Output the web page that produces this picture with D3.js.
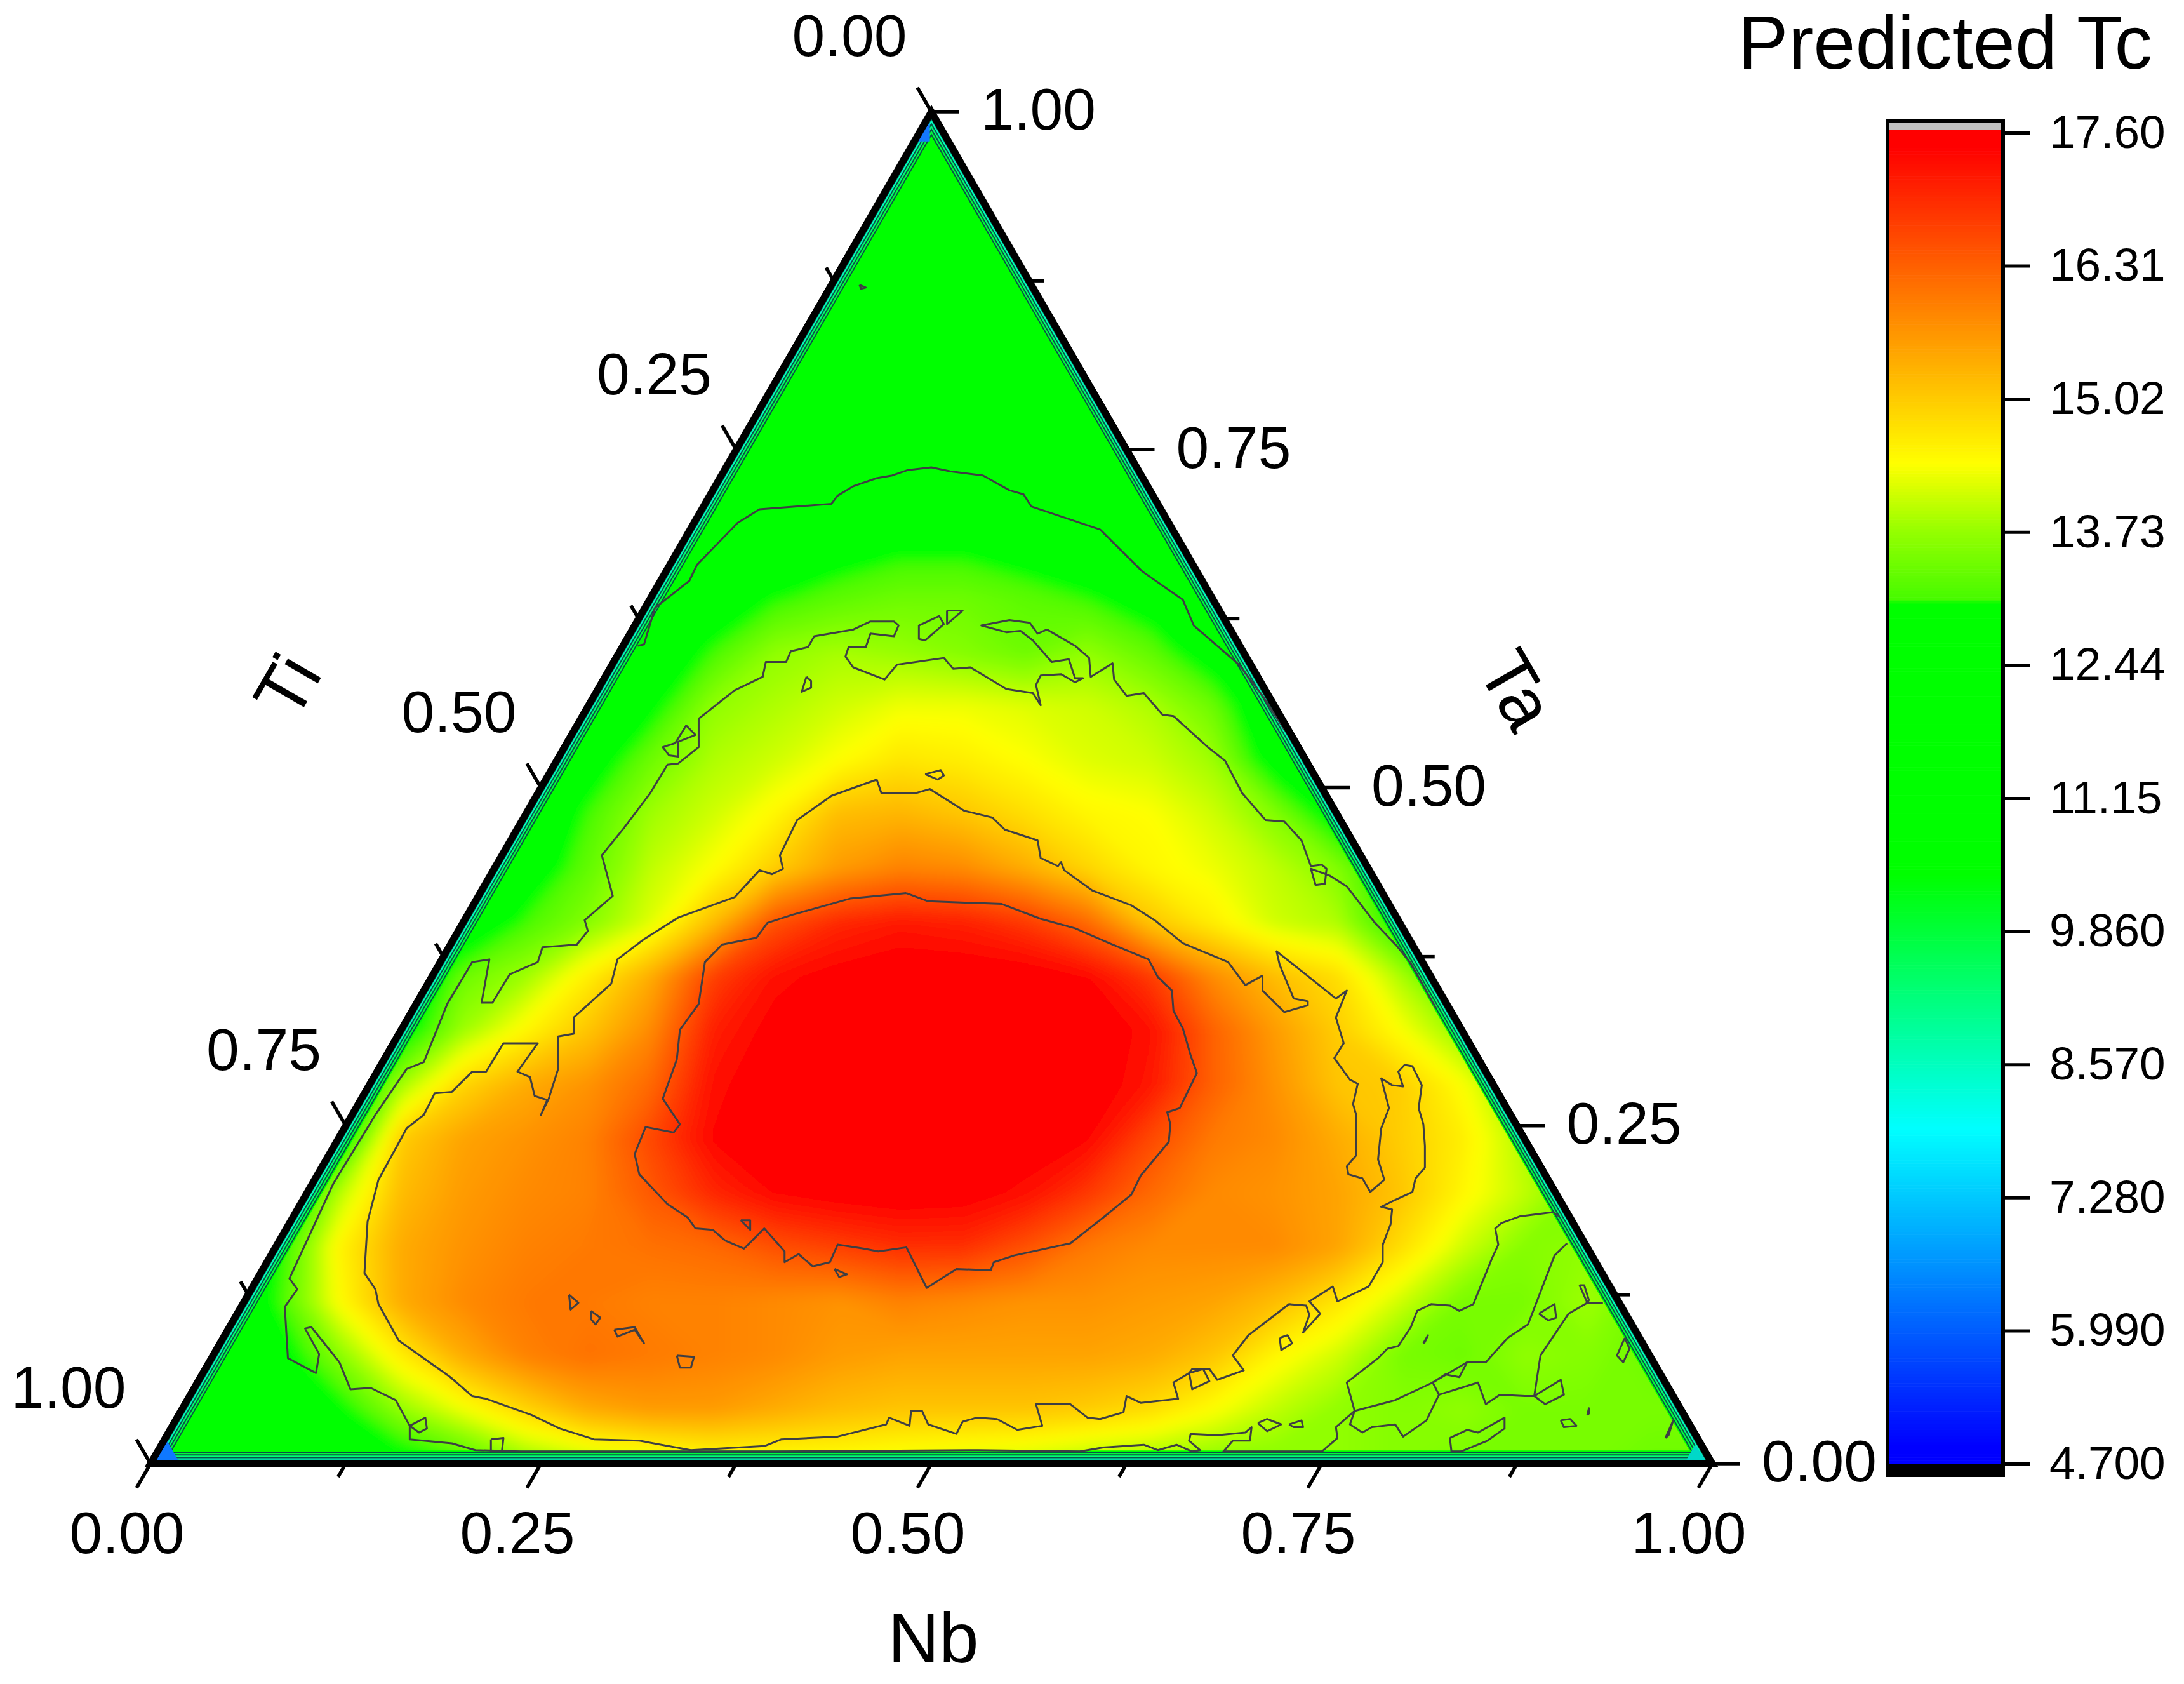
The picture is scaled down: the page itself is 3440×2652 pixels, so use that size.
<!DOCTYPE html>
<html><head><meta charset="utf-8">
<style>html,body{margin:0;padding:0;background:#fff}svg{display:block}text{font-family:"Liberation Sans",Arial,sans-serif;fill:#000}</style>
<script src="https://cdn.jsdelivr.net/npm/d3@7"></script>
</head><body><div id="c"></div>
<script>
// ---- tick values and labels
const axisTicks=[0,.25,.5,.75,1];
const axisMinor=[.125,.375,.625,.875];
const barTicks=[17.6,16.31,15.02,13.73,12.44,11.15,9.86,8.57,7.28,5.99,4.7];
const barLabels=["17.60","16.31","15.02","13.73","12.44","11.15","9.860","8.570","7.280","5.990","4.700"];
// ---- colour ramp of the legend
const rampValues=[4.85,7.93,10.4,13.03,13.06,13.73,14.38,17.45,17.6];
const rampColors=["#0000ff","#00ffff","#00ff00","#00ff00","#46fa00","#96ff00","#ffff00","#ff0000","#ff0000"];
// ---- Predicted Tc read on a grid: row = Ta 0,.04,...; column = (Nb+Ta/2) 0,.04,...,1
const G=12;
const tcGrid=[
[12.4,12.4,12.4,12.4,12.6,13,13.6,13.9,14.1,14.3,14.3,14.3,14.2,14.1,14,13.8,13.7,13.6,13.6,13.7,13.6,13.5,13.5,13.5,13.4,13.4],
[12.4,12.3,12.4,12.8,13.7,14.3,14.9,15.4,15.6,15.6,15.4,15.2,15.1,15.1,15.1,15,14.8,14.4,14,13.7,13.6,13.7,13.5,13.5,13.5,13.5],
[12.4,12.4,12.6,13.6,14.6,15.4,15.9,16.1,16,15.9,15.8,15.6,15.5,15.5,15.5,15.5,15.4,15.1,14.5,14.1,13.5,13.4,13.7,13.6,13.4,13.4],
[12.4,12.4,13,14.4,15.4,15.8,16,16,15.9,15.9,15.8,15.7,15.9,15.8,15.7,15.7,15.6,15.5,15.2,14.7,14.1,13.5,13.5,13.8,13.4,13.4],
[12.2,12.2,12.8,14.5,15.4,15.7,15.9,16,16.1,16.2,16.5,16.7,16.9,16.9,16.5,16,15.8,15.8,15.8,15.5,14.8,14.1,13.6,13.7,13,13],
[12,12,12,13.9,15.2,15.6,15.8,15.9,16.4,17,17.4,17.55,17.6,17.55,17.3,16.8,16.2,15.8,15.7,15.5,15.1,14.5,14,13.5,12.6,12.4],
[12,12,12,12.5,15,15.5,15.7,15.9,16.6,17.4,17.6,17.6,17.6,17.6,17.6,17.4,16.6,16,15.8,15.4,15,14.6,13.9,13,12.4,12.4],
[12,12,12,12,13.8,14.9,15.4,15.7,16.2,17.3,17.6,17.6,17.6,17.6,17.6,17.6,17.2,16.3,15.7,15.1,15,14.4,13.5,12.6,12.4,12.4],
[12,12,12,12,12.6,13.8,14.5,15.1,15.8,17.1,17.5,17.6,17.6,17.6,17.6,17.6,17.3,16.3,15.6,15,14.4,13.7,12.5,12,12,12],
[12,12,12,12,12,13.4,13.8,14.6,15.4,16.7,17.3,17.5,17.6,17.6,17.6,17.4,16.8,15.8,15.2,14.8,13.9,12.8,12,12,12,12],
[12,12,12,12,12,12.2,13.1,13.6,14.2,15.2,16.5,17,17.2,17.1,16.8,16.2,15.1,14.6,14.1,13.9,12.8,12.2,12,12,12,12],
[12,12,12,12,12,12,12.6,13.3,14,14.4,15,15.6,15.9,15.8,15.4,14.9,14.5,14.3,14,13.6,12.6,12,12,12,12,12],
[12,12,12,12,12,12,12,13.1,13.8,14.1,14.5,15.2,15.3,15.1,14.8,14.5,14.4,14.1,13.6,12.6,12,12,12,12,12,12],
[12,12,12,12,12,12,12,12.6,13.4,13.9,14.1,14.4,14.7,14.6,14.4,14.2,14.1,13.8,12.6,12,12,12,12,12,12,12],
[12,12,12,12,12,12,12,12,12.8,13.7,13.9,14.1,14.3,14.3,14.2,14.1,13.9,13.4,12.2,12,12,12,12,12,12,12],
[12,12,12,12,12,12,12,12,12.2,13.1,13.7,13.85,13.75,13.6,13.4,13.7,13.3,12.6,12,12,12,12,12,12,12,12],
[12,12,12,12,12,12,12,12,12.2,12.5,13,13.25,13.4,13.4,13.25,13.05,12.7,12.2,12,12,12,12,12,12,12,12],
[12,12,12,12,12,12,12,12,12,12.1,12.4,12.7,12.9,12.9,12.7,12.5,12.2,12,12,12,12,12,12,12,12,12],
[12,12,12,12,12,12,12,12,12,12,12.1,12.3,12.45,12.45,12.4,12.1,12,12,12,12,12,12,12,12,12,12],
Array(26).fill(G),Array(26).fill(G),Array(26).fill(G),Array(26).fill(G),Array(26).fill(G),Array(26).fill(G),Array(26).fill(G)
];
// ---- iso-lines: pairs are (Nb+Ta/2, Ta) in thousandths
const iso1244=[
[[312,605],[316,606],[323,633],[345,653],[350,665],[376,696],[390,706],[436,710],[440,716],[450,723],[465,729],[475,731],[485,735],[500,737],[512,734],[533,731],[550,720],[559,717],[564,708],[608,691],[635,660],[661,639],[668,620],[697,591],[712,568],[726,543]],
[[454,872],[458,870],[455,869],[454,872]]
];
const iso1373=[
[[237,9],[208,10],[193,15],[166,18],[166,28],[157,47],[141,56],[128,55],[121,75],[103,101],[99,100],[108,81],[106,67],[88,78],[86,116],[94,129],[89,137],[117,207],[144,258],[164,292],[175,297],[190,340],[206,371],[217,373],[212,341],[219,341],[230,362],[248,371],[251,382],[273,384],[280,394],[278,402],[296,420],[289,450],[303,470],[320,496],[331,517],[338,518],[351,530],[351,551],[374,572],[392,582],[394,593],[407,593],[410,601],[421,604],[425,612],[450,617],[461,623],[476,623],[479,620],[476,612],[461,614],[458,604],[447,604],[445,597],[450,589],[470,580],[478,591],[508,596],[514,588],[525,589],[548,573],[565,570],[570,561],[567,576],[570,583],[583,584],[592,578],[597,581],[592,581],[588,595],[577,593],[565,609],[557,616],[548,615],[532,620],[550,624],[563,622],[568,614],[574,617],[592,605],[601,596],[602,582],[616,592],[617,580],[625,568],[636,570],[648,554],[655,553],[677,530],[688,520],[699,496],[714,476],[726,475],[737,461],[743,442],[750,443],[753,440],[752,429],[746,428],[743,440],[755,435],[766,427],[784,400],[798,383],[807,370],[823,337]],
[[420,582],[423,579],[423,574],[417,571],[420,582]],
[[492,620],[505,627],[508,621],[496,609],[492,610],[492,620]],
[[510,631],[520,631],[510,621],[510,631]],
[[343,546],[349,539],[338,534],[338,523],[332,524],[328,530],[336,533],[343,546]],
[[166,28],[176,34],[177,26],[172,23],[166,28]],
[[218,18],[226,19],[225,9],[218,9],[218,18]],
[[237,9],[400,9],[530,10],[595,9],[610,12],[636,14],[645,10],[657,14],[667,9],[672,10],[665,17],[666,22],[683,21],[701,23],[705,27],[704,17],[693,17],[687,9],[750,9],[760,19],[759,27],[771,39],[766,60],[786,78],[792,85],[799,87],[807,101],[811,113],[820,118],[832,117],[838,113],[847,118],[859,152],[863,162],[861,174],[865,178],[877,183],[898,186],[902,183]],
[[771,39],[797,47],[821,60],[843,75],[855,75],[869,93],[882,103],[899,154],[907,163]],
[[821,60],[825,51],[817,32],[802,20],[797,29],[782,27],[776,23],[768,29],[771,39]],
[[825,51],[850,60],[855,44],[864,51],[880,50],[886,50],[890,80],[908,111],[920,119],[930,119]],
[[821,60],[829,66],[838,64],[843,75]],
[[886,50],[903,62],[905,51],[893,44],[886,50]],
[[915,132],[918,132],[921,121],[920,119],[915,132]],
[[889,111],[899,118],[900,108],[895,106],[889,111]],
[[944,93],[947,85],[943,75],[939,80],[944,93]],
[[832,19],[843,25],[850,23],[867,34],[867,26],[856,17],[839,9],[833,9],[832,19]],
[[903,32],[909,33],[913,28],[905,27],[903,32]],
[[970,19],[975,32],[972,21],[970,19]],
[[815,89],[818,95],[816,90],[815,89]],
[[920,36],[921,41],[921,37],[920,36]],
[[709,30],[715,33],[724,29],[715,24],[709,30]],
[[729,29],[737,32],[738,27],[732,27],[729,29]]
];
const iso1502=[
[[465,506],[436,494],[414,476],[403,450],[405,440],[398,436],[390,439],[374,419],[338,404],[316,388],[299,373],[295,355],[271,330],[271,318],[261,316],[261,292],[255,270],[250,258],[254,269],[246,272],[243,286],[235,290],[248,311],[226,311],[215,290],[206,290],[193,275],[182,274],[175,258],[164,248],[146,210],[139,179],[137,141],[144,129],[146,118],[159,91],[175,78],[192,64],[206,50],[215,48],[244,36],[262,26],[284,18],[313,17],[346,10],[393,13],[404,18],[440,20],[471,29],[473,34],[486,28],[487,39],[494,39],[498,29],[516,22],[520,31],[529,34],[542,33],[555,25],[571,28],[567,44],[589,44],[600,34],[608,33],[623,38],[625,50],[634,45],[658,48],[655,60],[665,67],[667,70],[678,70],[683,62],[700,69],[693,80],[703,95],[729,118],[740,117],[742,110],[738,97],[749,111],[742,120],[757,131],[760,120],[780,131],[789,149],[789,162],[794,177],[795,188],[788,190],[795,194],[808,201],[810,211],[816,219],[816,235],[815,251],[812,263],[814,280],[808,294],[803,295],[799,290],[802,279],[795,280],[788,285],[793,263],[788,248],[786,225],[790,210],[781,201],[776,211],[767,214],[766,220],[772,228],[772,258],[770,266],[773,281],[768,284],[758,300],[764,311],[759,330],[766,350],[759,344],[744,358],[721,379],[723,369],[732,344],[741,342],[741,339],[726,334],[712,350],[712,361],[701,354],[690,371],[661,385],[643,402],[628,413],[603,424],[585,439],[583,445],[581,442],[570,448],[568,461],[547,469],[539,478],[521,483],[499,499],[490,496],[468,496],[465,506]],
[[496,510],[506,513],[508,509],[504,506],[496,510]],
[[723,93],[728,95],[731,89],[724,84],[723,93]],
[[665,67],[667,55],[678,61],[674,70],[665,67]]
];
const iso1631=[
[[484,422],[498,416],[545,414],[570,403],[592,396],[614,385],[639,373],[645,360],[654,350],[655,335],[661,322],[666,302],[670,289],[659,263],[651,260],[653,251],[652,238],[634,213],[628,199],[610,182],[589,163],[553,154],[540,149],[538,143],[516,144],[497,130],[484,160],[466,157],[457,159],[440,162],[435,149],[424,146],[415,155],[406,149],[406,157],[393,174],[380,159],[368,165],[360,173],[349,174],[344,182],[331,192],[313,214],[310,229],[317,249],[335,245],[339,251],[328,270],[337,299],[339,321],[351,340],[355,371],[366,384],[388,389],[395,400],[411,406],[448,418],[484,422]],
[[378,180],[384,180],[384,173],[378,180]],
[[438,144],[446,140],[441,138],[438,144]],
[[268,125],[274,119],[269,114],[268,125]],
[[282,113],[288,108],[285,103],[282,107],[282,113]],
[[297,99],[310,101],[316,89],[310,99],[299,94],[297,99]],
[[337,80],[348,79],[346,71],[339,71],[337,80]]
];
// ---- rim of the triangle: smallest component and the Tc reached there
const rimOffset=[0,.0025,.0045,.0065,.0085];
const rimLevel=[7.95,8.57,9.3,9.86,11.15];
const heatOffset=.0098;

// ---- geometry
const W=3440,H=2652;
const xScale=d3.scaleLinear([0,1],[237,2697]);
const yScale=d3.scaleLinear([0,1],[2305,176]);
const colorY=d3.scaleLinear([4.7,17.6],[2305,209]);
const color=d3.scaleLinear(rampValues,rampColors).clamp(true);
const P=(nb,ta)=>[xScale(nb+ta/2),yScale(ta)];
const tri=d=>[P(d,d),P(1-2*d,d),P(d,1-2*d)];
const line=d3.line();
const svg=d3.select("#c").append("svg").attr("width",W).attr("height",H).attr("viewBox",[0,0,W,H]);
svg.append("rect").attr("width",W).attr("height",H).attr("fill","#fff");
const defs=svg.append("defs");
defs.append("filter").attr("id","soft").attr("x",-.05).attr("y",-.05).attr("width",1.1).attr("height",1.1)
  .attr("filterUnits","objectBoundingBox").append("feGaussianBlur").attr("stdDeviation",10);
defs.append("clipPath").attr("id","inner").append("path").attr("d",line(tri(heatOffset))+"Z");

// ---- rim bands
rimOffset.forEach((d,i)=>{
  svg.append("path").attr("d",line(tri(d))+"Z").attr("fill",color(rimLevel[i]))
    .attr("stroke",i?"#0a5248":"none").attr("stroke-width",2);
});

// ---- filled field
const heat=svg.append("g").attr("clip-path","url(#inner)").append("g").attr("filter","url(#soft)");
heat.append("path").attr("d",line([[0,2400],[3000,2400],[3000,100],[0,100]])+"Z").attr("fill","#00ff00");
const flat=tcGrid.flat();
const thresholds=d3.range(13.0,17.61,.03);
const gx=d3.scaleLinear([.5,25.5],[0,1]), gy=d3.scaleLinear([.5,25.5],[0,1]);
const geo=d3.geoPath(d3.geoTransform({point(x,y){this.stream.point(xScale(gx(x)),yScale(gy(y)));}}));
const contours=d3.contours().size([26,26]).thresholds(thresholds)(flat);
heat.selectAll("path.band").data(contours).join("path").attr("class","band").attr("d",geo).attr("fill",d=>color(d.value));

// ---- iso-lines
const isoG=svg.append("g").attr("fill","none").attr("stroke","#3e3e44").attr("stroke-width",3).attr("stroke-linejoin","round");
[iso1244,iso1373,iso1502,iso1631].forEach(set=>{
  isoG.selectAll(null).data(set).join("path")
    .attr("d",d=>line(d.map(p=>[xScale(p[0]/1000),yScale(p[1]/1000)])));
});
// corner spots
svg.append("path").attr("d",line([P(.001,.978),P(.01,.978),P(.003,.992)])+"Z").attr("fill","#1478ff");
svg.append("path").attr("d",line([P(.002,.002),P(.017,.002),P(.002,.017)])+"Z").attr("fill","#0f78ff");
svg.append("path").attr("d",line([P(.982,.002),P(.995,.002),P(.982,.014)])+"Z").attr("fill","#00d8c8");

// ---- triangle frame and ticks
svg.append("path").attr("d",line(tri(0))+"Z").attr("fill","none").attr("stroke","#000").attr("stroke-width",11).attr("stroke-linejoin","miter");
const axG=svg.append("g").attr("stroke","#000").attr("stroke-width",5.5);
const dirs={bottom:[-.5,.866],right:[1,0],left:[-.5,-.866]};
const at={bottom:t=>P(t,0),right:t=>P(1-t,t),left:t=>P(0,1-t)};
Object.keys(dirs).forEach(k=>{
  const [dx,dy]=dirs[k];
  [[axisTicks,44],[axisMinor,24]].forEach(([tv,len])=>tv.forEach(t=>{
    const [x,y]=at[k](t);
    axG.append("line").attr("x1",x).attr("y1",y).attr("x2",x+dx*len).attr("y2",y+dy*len);
  }));
});
const F=93, lab=(x,y,s,anchor)=>svg.append("text").attr("x",x).attr("y",y+F*.358).attr("font-size",F).attr("text-anchor",anchor).text(s);
axisTicks.forEach(t=>{
  const s=d3.format(".2f")(t);
  let [x,y]=at.bottom(t); lab(x-37,y+108,s,"middle");
  [x,y]=at.right(t); lab(x+78,y-5,s,"start");
  [x,y]=at.left(t); lab(x-129,y-121,s,"middle");
});
svg.append("text").attr("x",1470).attr("y",2618).attr("font-size",112).attr("text-anchor","middle").text("Nb");
svg.append("text").attr("transform","translate(452,1080) rotate(-60)").attr("y",40).attr("font-size",114).attr("text-anchor","middle").text("Ti");
svg.append("text").attr("transform","translate(2390,1086) rotate(60)").attr("y",40).attr("font-size",114).attr("text-anchor","middle").text("Ta");

// ---- colour bar
const bar=svg.append("g");
bar.append("rect").attr("x",2973).attr("y",193).attr("width",182).attr("height",16).attr("fill","#c0c0c0");
const steps=d3.range(4.7,17.6,12.9/430);
bar.selectAll("rect.s").data(steps).join("rect").attr("class","s").attr("x",2973).attr("width",182)
  .attr("y",d=>colorY(d+12.9/430)).attr("height",d=>colorY(d)-colorY(d+12.9/430)+.6).attr("fill",d=>color(d));
bar.append("rect").attr("x",2973).attr("y",2305).attr("width",182).attr("height",20).attr("fill","#000");
bar.append("rect").attr("x",2973).attr("y",191).attr("width",182).attr("height",2132).attr("fill","none").attr("stroke","#000").attr("stroke-width",6);
const yAxis=d3.axisRight(colorY).tickValues(barTicks).tickSize(42).tickPadding(30).tickFormat((d,i)=>barLabels[i]);
const ag=svg.append("g").attr("transform","translate(3156,0)").call(yAxis);
ag.select(".domain").remove();
ag.selectAll("line").attr("stroke","#000").attr("stroke-width",5);
ag.selectAll("text").attr("font-size",73).attr("font-family",'"Liberation Sans",Arial,sans-serif');
svg.append("text").attr("x",3390).attr("y",108).attr("font-size",119).attr("text-anchor","end").text("Predicted Tc");
</script></body></html>
